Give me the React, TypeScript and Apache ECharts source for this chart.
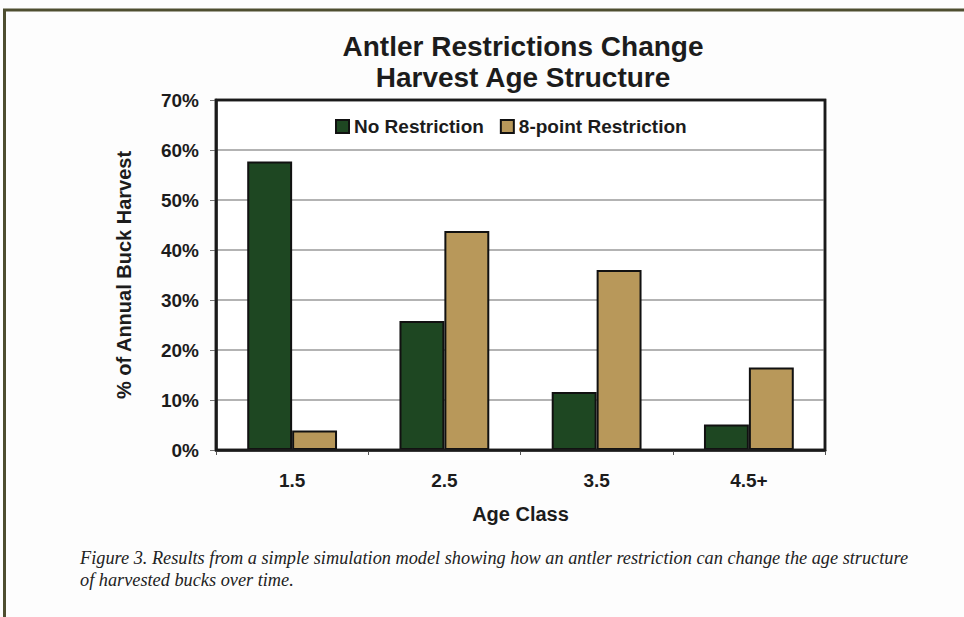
import React, { useEffect, useRef } from "react";
import * as echarts from "echarts";

const categories = ["1.5", "2.5", "3.5", "4.5+"];
const seriesNames = ["No Restriction", "8-point Restriction"];
const noRestriction = [57.7, 25.8, 11.6, 5.1];
const eightPoint = [3.9, 43.8, 36.0, 16.5];
const titleLines = ["Antler Restrictions Change", "Harvest Age Structure"];
const yAxisName = "% of Annual Buck Harvest";
const xAxisName = "Age Class";
const captionLines = [
  "Figure 3. Results from a simple simulation model showing how an antler restriction can change the age structure",
  "of harvested bucks over time.",
];

const SANS = "'Liberation Sans', Arial, sans-serif";
const SERIF = "'Liberation Serif', 'Times New Roman', serif";
const TEXT = "#1c1c1c";

const GRID = { left: 216, top: 100, width: 609, height: 350 };

export default function App() {
  const ref = useRef<HTMLDivElement>(null);
  useEffect(() => {
    if (!ref.current) return;
    const chart = echarts.init(ref.current, null, { renderer: "svg" });
    chart.setOption({
      animation: false,
      backgroundColor: "#fdfdfd",
      title: {
        text: titleLines.join("\n"),
        left: 518,
        top: 26,
        textAlign: "center",
        textStyle: {
          fontFamily: SANS,
          fontWeight: "bold",
          fontSize: 28,
          lineHeight: 31,
          color: TEXT,
        },
      },
      legend: {
        left: 335,
        top: 117,
        padding: 0,
        itemWidth: 13,
        itemHeight: 13,
        itemGap: 16,
        icon: "rect",
        data: seriesNames,
        textStyle: {
          fontFamily: SANS,
          fontWeight: "bold",
          fontSize: 19,
          color: TEXT,
        },
      },
      grid: {
        ...GRID,
        show: true,
        borderColor: "#1a1a1a",
        borderWidth: 2.5,
        backgroundColor: "#ffffff",
      },
      xAxis: {
        type: "category",
        data: categories,
        name: xAxisName,
        nameLocation: "middle",
        nameGap: 54,
        nameTextStyle: {
          fontFamily: SANS,
          fontWeight: "bold",
          fontSize: 20,
          color: TEXT,
        },
        axisLine: { show: true, lineStyle: { color: "#1a1a1a", width: 2.5 } },
        axisTick: { show: true, length: 5, alignWithLabel: false, lineStyle: { color: "#555" } },
        axisLabel: {
          margin: 21,
          fontFamily: SANS,
          fontWeight: "bold",
          fontSize: 19,
          color: TEXT,
        },
        splitLine: { show: false },
      },
      yAxis: {
        type: "value",
        min: 0,
        max: 70,
        interval: 10,
        name: yAxisName,
        nameLocation: "middle",
        nameGap: 82,
        nameRotate: 90,
        nameTextStyle: {
          fontFamily: SANS,
          fontWeight: "bold",
          fontSize: 20,
          color: TEXT,
        },
        axisLine: { show: true, lineStyle: { color: "#1a1a1a", width: 2.5 } },
        axisTick: { show: true, length: 6, lineStyle: { color: "#777" } },
        axisLabel: {
          margin: 17,
          formatter: "{value}%",
          fontFamily: SANS,
          fontWeight: "bold",
          fontSize: 19,
          color: TEXT,
        },
        splitLine: { show: true, lineStyle: { color: "#9a9a9a", width: 1.5 } },
      },
      series: [
        {
          name: seriesNames[0],
          type: "bar",
          data: noRestriction,
          barGap: "0%",
          barCategoryGap: "41%",
          itemStyle: { color: "#1e4722", borderColor: "#111", borderWidth: 2 },
        },
        {
          name: seriesNames[1],
          type: "bar",
          data: eightPoint,
          itemStyle: { color: "#b8985a", borderColor: "#111", borderWidth: 2 },
        },
      ],
      graphic: [
        {
          type: "rect",
          z: 100,
          silent: true,
          shape: { x: GRID.left, y: GRID.top, width: GRID.width, height: GRID.height },
          style: { fill: "none", stroke: "#1a1a1a", lineWidth: 2.5 },
        },
        {
          type: "line",
          shape: { x1: 3, y1: 10, x2: 964, y2: 10 },
          style: { stroke: "#4e4e30", lineWidth: 3 },
        },
        {
          type: "line",
          shape: { x1: 4.5, y1: 9, x2: 4.5, y2: 617 },
          style: { stroke: "#4e4e30", lineWidth: 3 },
        },
        {
          type: "text",
          x: 80,
          y: 558,
          style: {
            text: captionLines[0],
            fontFamily: SERIF,
            fontStyle: "italic",
            fontSize: 18.3,
            fill: "#222",
            verticalAlign: "middle",
            align: "left",
          },
        },
        {
          type: "text",
          x: 80,
          y: 580,
          style: {
            text: captionLines[1],
            fontFamily: SERIF,
            fontStyle: "italic",
            fontSize: 18.3,
            fill: "#222",
            verticalAlign: "middle",
            align: "left",
          },
        },
      ],
    });
    return () => chart.dispose();
  }, []);
  return (
    <div
      ref={ref}
      style={{ position: "absolute", left: 0, top: 0, width: 964, height: 617 }}
    />
  );
}
